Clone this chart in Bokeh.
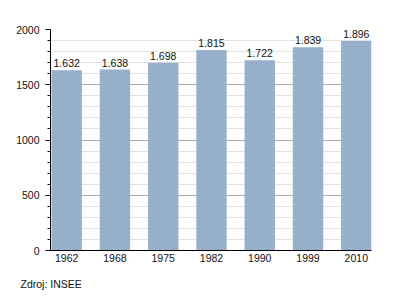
from bokeh.plotting import figure
from bokeh.models import ColumnDataSource, FixedTicker, SingleIntervalTicker, Range1d, Title
from bokeh.core.properties import value
from bokeh.embed import file_html
from bokeh.resources import INLINE

years = ["1962", "1968", "1975", "1982", "1990", "1999", "2010"]
population = [1632, 1638, 1698, 1815, 1722, 1839, 1896]
labels = ["1.632", "1.638", "1.698", "1.815", "1.722", "1.839", "1.896"]
source_text = "Zdroj: INSEE"

FONT = "Liberation Sans"
idx = list(range(len(years)))
src = ColumnDataSource(dict(x=idx, y=population, lab=labels))

p = figure(width=400, height=300, output_backend="svg", toolbar_location=None,
           x_range=Range1d(-0.335, 6.315), y_range=Range1d(0, 2000),
           min_border_left=50, min_border_right=29, min_border_top=29, min_border_bottom=10)
p.outline_line_color = None
p.background_fill_color = "white"
p.border_fill_color = "white"

p.vbar(x="x", top="y", width=0.63, source=src, fill_color="#96b0cc", line_color=None)
p.text(x="x", y="y", text="lab", source=src, text_align="center", text_baseline="bottom",
       y_offset=-3, text_font=value(FONT), text_font_size="10.5px", text_color="#111111")

# grid
p.xgrid.grid_line_color = None
p.ygrid.ticker = SingleIntervalTicker(interval=500, num_minor_ticks=5)
p.ygrid.grid_line_color = "#a8a8a8"
p.ygrid.grid_line_width = 1
p.ygrid.minor_grid_line_color = "#e2e2e2"
p.ygrid.level = "underlay"

# y axis
ya = p.yaxis[0]
ya.ticker = SingleIntervalTicker(interval=500, num_minor_ticks=5)
ya.axis_line_color = "black"
ya.major_tick_in = 0
ya.major_tick_out = 5
ya.minor_tick_in = 0
ya.minor_tick_out = 3
ya.major_tick_line_color = "black"
ya.minor_tick_line_color = "black"
ya.major_label_standoff = 6
ya.major_label_text_font = FONT
ya.major_label_text_font_size = "10.5px"
ya.major_label_text_color = "#111111"

# x axis
xa = p.xaxis[0]
xa.ticker = FixedTicker(ticks=idx)
xa.major_label_overrides = {i: y for i, y in zip(idx, years)}
xa.axis_line_color = "black"
xa.major_tick_line_color = None
xa.minor_tick_line_color = None
xa.major_tick_in = 0
xa.major_tick_out = 0
xa.major_label_standoff = 3
xa.major_label_text_font = FONT
xa.major_label_text_font_size = "10.5px"
xa.major_label_text_color = "#111111"

p.add_layout(Title(text=source_text, align="left", offset=-30, standoff=22,
                   text_font=FONT, text_font_size="10.5px", text_font_style="normal",
                   text_color="#111111"), "below")

open("out.html", "w").write(file_html(p, INLINE))
